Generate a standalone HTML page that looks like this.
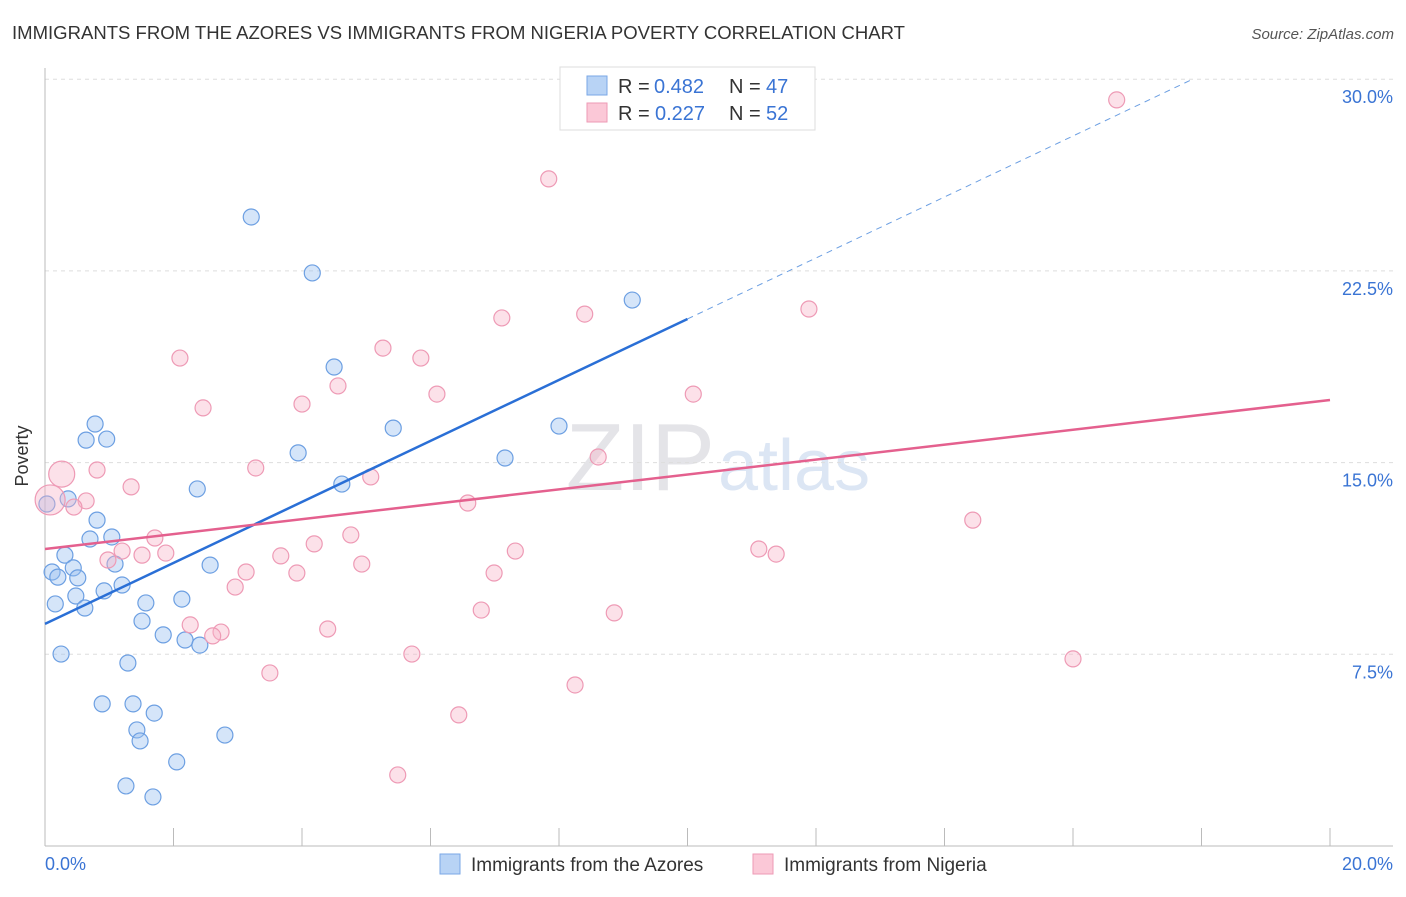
<!DOCTYPE html>
<html><head><meta charset="utf-8"><style>
body{margin:0;background:#fff;font-family:"Liberation Sans",sans-serif}
svg text{font-family:"Liberation Sans",sans-serif}
</style></head><body>
<svg id="c" width="1406" height="892">
<text x="12" y="39" font-size="18" fill="#333" textLength="893" lengthAdjust="spacingAndGlyphs">IMMIGRANTS FROM THE AZORES VS IMMIGRANTS FROM NIGERIA POVERTY CORRELATION CHART</text>
<text x="1394" y="39" font-size="15" fill="#555" font-style="italic" text-anchor="end">Source: ZipAtlas.com</text>
<text x="715" y="490" font-size="96" fill="#e4e4e8" text-anchor="end" font-family="Liberation Serif">ZIP</text>
<text x="718" y="490" font-size="72" fill="#dce6f4">atlas</text>
<g id="grid"></g><g id="pts"></g><g id="lines"></g>
<text x="28" y="456" font-size="18" fill="#333" text-anchor="middle" transform="rotate(-90 28 456)">Poverty</text>
<g>
<rect x="560" y="67" width="255" height="63" fill="#fff" stroke="#ddd"/>
<rect x="587" y="76" width="20" height="19" fill="#b8d3f5" stroke="#7aa7e6"/>
<rect x="587" y="103" width="20" height="19" fill="#fbc8d7" stroke="#ee9ab5"/>
<text x="618" y="93" font-size="20" fill="#333">R =</text><text x="654" y="93" font-size="20" fill="#3a74d4">0.482</text>
<text x="729" y="93" font-size="20" fill="#333">N =</text><text x="766" y="93" font-size="20" fill="#3a74d4">47</text>
<text x="618" y="120" font-size="20" fill="#333">R =</text><text x="655" y="120" font-size="20" fill="#3a74d4">0.227</text>
<text x="729" y="120" font-size="20" fill="#333">N =</text><text x="766" y="120" font-size="20" fill="#3a74d4">52</text>
</g>
<g>
<rect x="440" y="854" width="20" height="20" fill="#b8d3f5" stroke="#7aa7e6"/>
<text x="471" y="871" font-size="19" fill="#333">Immigrants from the Azores</text>
<rect x="753" y="854" width="20" height="20" fill="#fbc8d7" stroke="#ee9ab5"/>
<text x="784" y="871" font-size="19" fill="#333">Immigrants from Nigeria</text>
</g>
<text x="45" y="870" font-size="18" fill="#3a74d4">0.0%</text>
<text x="1393" y="870" font-size="18" fill="#3a74d4" text-anchor="end">20.0%</text>
</svg>
<script>
const yTicks=[7.5,15,22.5,30];
const yTickLabels=["7.5%","15.0%","22.5%","30.0%"];
const azoresX=[3.21,4.16,0.78,0.64,0.96,4.50,9.14,5.42,8.00,3.94,7.16,2.37,4.62,0.36,0.03,0.81,0.70,1.04,0.31,0.11,0.44,0.20,0.51,1.09,1.20,0.92,0.48,0.16,0.62,2.57,2.13,1.57,1.51,1.84,2.18,2.41,0.25,1.29,0.89,1.37,1.70,1.43,1.48,2.80,2.05,1.26,1.68];
const azoresY=[24.61,22.42,16.51,15.88,15.92,18.74,21.36,16.35,16.43,15.38,15.18,13.97,14.16,13.58,13.38,12.75,12.01,12.09,11.38,10.72,10.88,10.52,10.49,11.03,10.21,9.98,9.78,9.47,9.31,10.99,9.66,9.51,8.80,8.26,8.06,7.86,7.51,7.16,5.56,5.56,5.20,4.54,4.11,4.34,3.29,2.35,1.92];
const nigeriaX=[16.68,7.84,7.11,8.40,11.89,2.10,5.26,5.85,4.56,2.46,4.00,6.10,10.09,0.26,0.81,3.28,5.07,1.34,0.64,0.45,0.08,6.58,8.61,14.44,1.71,1.20,0.98,1.51,1.88,4.19,4.76,3.67,7.32,11.11,11.38,3.13,3.92,4.93,6.99,2.96,6.79,8.86,2.26,2.74,2.61,4.40,5.71,16.00,3.50,8.25,6.44,5.49];
const nigeriaY=[29.19,26.10,20.66,20.81,21.01,19.09,19.48,19.09,18.00,17.14,17.29,17.68,17.68,14.55,14.71,14.79,14.44,14.05,13.50,13.26,13.54,13.42,15.22,12.75,12.05,11.54,11.19,11.38,11.46,11.82,12.17,11.35,11.54,11.62,11.42,10.72,10.68,11.03,10.68,10.13,9.23,9.12,8.65,8.37,8.22,8.49,7.51,7.32,6.77,6.30,5.13,2.78];
const nigeriaR=[8,8,8,8,8,8,8,8,8,8,8,8,8,13,8,8,8,8,8,8,15,8,8,8,8,8,8,8,8,8,8,8,8,8,8,8,8,8,8,8,8,8,8,8,8,8,8,8,8,8,8,8];
const azoresTrend=[8.69,1.193];
const nigeriaTrend=[11.62,0.2915];
const NS='http://www.w3.org/2000/svg';
const X=v=>45+v/20*1285, Y=v=>846-v/7.5*191.7;
function mk(t,a,p){const e=document.createElementNS(NS,t);for(const k in a)e.setAttribute(k,a[k]);p.appendChild(e);return e;}
const grid=document.getElementById('grid');
yTicks.forEach((t,i)=>{
 const l=mk('line',{x1:45,x2:1393,y1:Y(t),y2:Y(t),stroke:'#ddd','stroke-dasharray':'4 4'},grid);
 
 
 const tx=mk('text',{x:1393,y:Y(t)+24,'font-size':18,fill:'#3a74d4','text-anchor':'end'},grid);
 tx.textContent=yTickLabels[i];
 
 
});
mk('line',{x1:45,x2:45,y1:68,y2:846,stroke:'#bbb'},grid);
mk('line',{x1:45,x2:1393,y1:846,y2:846,stroke:'#bbb'},grid);
for(let i=1;i<=10;i++){const t=mk('line',{x1:X(i*2),x2:X(i*2),y1:828,y2:846,stroke:'#bbb'},grid);
 
 }
const pts=document.getElementById('pts');
azoresX.forEach((x,i)=>{const c=mk('circle',{cx:X(x),cy:Y(azoresY[i]),r:8,fill:'rgba(150,190,240,0.4)',stroke:'#6c9fe2','stroke-width':1.2},pts);
 
 });
nigeriaX.forEach((x,i)=>{const c=mk('circle',{cx:X(x),cy:Y(nigeriaY[i]),r:nigeriaR[i],fill:'rgba(248,180,200,0.4)',stroke:'#ee9ab5','stroke-width':1.2},pts);
 
 });
const lines=document.getElementById('lines');
const bx=(30-azoresTrend[0])/azoresTrend[1];
let l=mk('line',{x1:X(0),y1:Y(azoresTrend[0]),x2:X(10),y2:Y(azoresTrend[0]+10*azoresTrend[1]),stroke:'#2a6fd6','stroke-width':2.5},lines);


l=mk('line',{x1:X(10),y1:Y(azoresTrend[0]+10*azoresTrend[1]),x2:X(bx),y2:Y(30),stroke:'#6c9fe2','stroke-width':1,'stroke-dasharray':'6 5'},lines);


l=mk('line',{x1:X(0),y1:Y(nigeriaTrend[0]),x2:X(20),y2:Y(nigeriaTrend[0]+20*nigeriaTrend[1]),stroke:'#e4608e','stroke-width':2.5},lines);


</script>
</body></html>
